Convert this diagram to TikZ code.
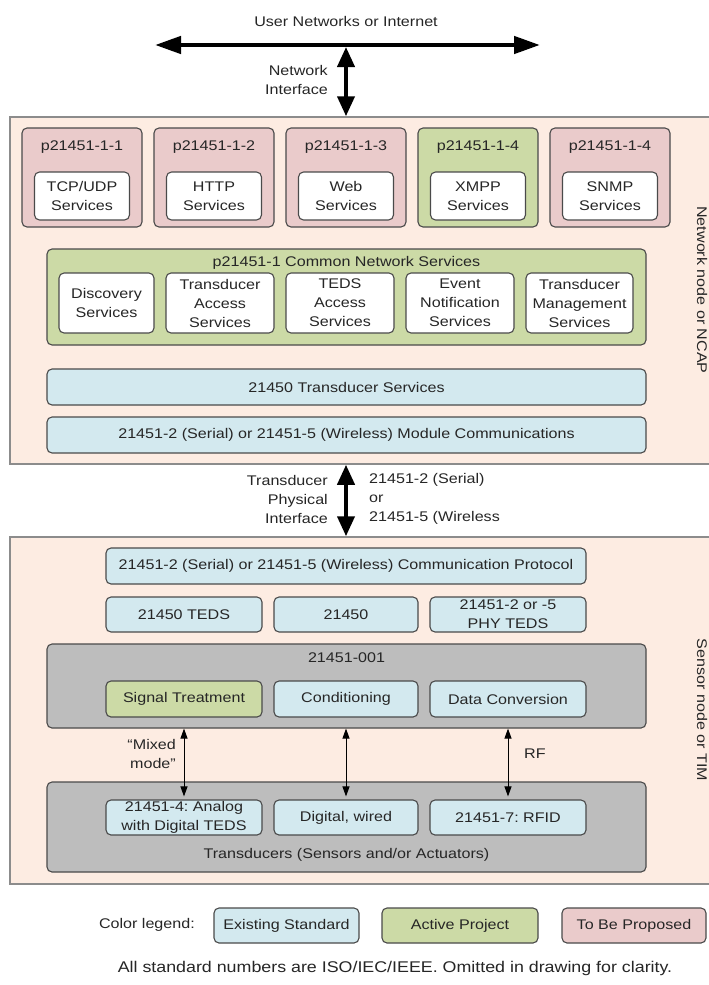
\documentclass[tikz,border=0pt]{standalone}
\usepackage{fontspec}
\setmainfont[FakeStretch=1.15]{Liberation Sans}
\usetikzlibrary{arrows.meta}
\frenchspacing
\definecolor{peach}{HTML}{FDECE2}
\definecolor{pinkf}{HTML}{EACBCB}
\definecolor{greenf}{HTML}{CCDAA6}
\definecolor{bluef}{HTML}{D3E9EF}
\definecolor{grayf}{HTML}{BDBDBD}
\definecolor{edgec}{HTML}{4A4A4A}
\definecolor{outerc}{HTML}{8C8C8C}
\definecolor{txt}{HTML}{262626}
\begin{document}
\begin{tikzpicture}[x=1pt,y=-1pt,
  every node/.style={font=\fontsize{14}{19}\selectfont\frenchspacing, text=txt, inner sep=0pt, align=center},
  box/.style={draw=edgec, line width=1.1pt, rounded corners=5pt},
  pinkbox/.style={box, fill=pinkf},
  greenbox/.style={box, fill=greenf},
  bluebox/.style={box, fill=bluef},
  graybox/.style={box, fill=grayf},
  whitebox/.style={box, fill=white},
  outerbox/.style={draw=outerc, line width=1.5pt, fill=peach},
  bigarrow/.style={line width=4pt, {Triangle[length=20pt,width=17pt]}-{Triangle[length=20pt,width=17pt]}},
  wideharrow/.style={line width=4.5pt, {Triangle[length=26pt,width=17pt]}-{Triangle[length=26pt,width=17pt]}},
  thinarrow/.style={line width=1pt, {Triangle[length=10pt,width=7pt]}-{Triangle[length=10pt,width=7pt]}}
]
\useasboundingbox (0,0) rectangle (709,985);
\fill[white] (0,0) rectangle (709,985);

% top network
\node (un) at (346,21) {User Networks or Internet};
\coordinate (hl) at (155,45);
\coordinate (hr) at (540,45);
\draw[wideharrow] (hl) -- (hr);

% NCAP
\node[outerbox, minimum width=705pt, minimum height=347pt] (ncap) at (362.5,290.5) {};
\node[rotate=-90] (ncapl) at (702,290) {Network node or NCAP};
\coordinate (ni) at (346,47);
\draw[bigarrow] (ni) -- (ni |- ncap.north);
\node[anchor=east, align=right] (nil) at (328,80) {Network\\Interface};

% top row
\node[pinkbox, minimum width=120pt, minimum height=99pt] (p1) at (82,177.5) {};
\node[pinkbox, minimum width=120pt, minimum height=99pt] (p2) at (214,177.5) {};
\node[pinkbox, minimum width=120pt, minimum height=99pt] (p3) at (346,177.5) {};
\node[greenbox, minimum width=120pt, minimum height=99pt] (p4) at (478,177.5) {};
\node[pinkbox, minimum width=120pt, minimum height=99pt] (p5) at (610,177.5) {};
\node (p1l) at (82,147) {p21451-1-1};
\node (p2l) at (214,147) {p21451-1-2};
\node (p3l) at (346,147) {p21451-1-3};
\node (p4l) at (478,147) {p21451-1-4};
\node (p5l) at (610,147) {p21451-1-4};
\node[whitebox, minimum width=95pt, minimum height=48pt] (s1) at (82,196) {TCP/UDP\\Services};
\node[whitebox, minimum width=95pt, minimum height=48pt] (s2) at (214,196) {HTTP\\Services};
\node[whitebox, minimum width=95pt, minimum height=48pt] (s3) at (346,196) {Web\\Services};
\node[whitebox, minimum width=95pt, minimum height=48pt] (s4) at (478,196) {XMPP\\Services};
\node[whitebox, minimum width=95pt, minimum height=48pt] (s5) at (610,196) {SNMP\\Services};

% common network services
\node[greenbox, minimum width=599pt, minimum height=96pt] (cns) at (346.5,297) {};
\node (cnsl) at (346.5,263) {p21451-1 Common Network Services};
\node[whitebox, minimum width=95pt, minimum height=60pt] (c1) at (106.5,303) {Discovery\\Services};
\node[whitebox, minimum width=108pt, minimum height=60pt] (c2) at (220,303) {Transducer\\Access\\Services};
\node[whitebox, minimum width=108pt, minimum height=60pt] (c3) at (340,303) {TEDS\\Access\\Services};
\node[whitebox, minimum width=108pt, minimum height=60pt] (c4) at (460,303) {Event\\Notification\\Services};
\node[whitebox, minimum width=107pt, minimum height=60pt] (c5) at (579.5,303) {Transducer\\Management\\Services};

\node[bluebox, minimum width=599pt, minimum height=36pt] (ts) at (346.5,387) {21450 Transducer Services};
\node[bluebox, minimum width=599pt, minimum height=36pt] (mc) at (346.5,435) {21451-2 (Serial) or 21451-5 (Wireless) Module Communications};

% TIM
\node[outerbox, minimum width=705pt, minimum height=347pt] (tim) at (362.5,710.5) {};
\node[rotate=-90] (timl) at (702,710) {Sensor node or TIM};
\coordinate (ti) at (346,500);
\draw[bigarrow] (ti |- ncap.south) -- (ti |- tim.north);
\node[anchor=east, align=right] (tpi) at (328,499) {Transducer\\Physical\\Interface};
\node[anchor=west, align=left] (tpr) at (369,499) {21451-2 (Serial)\\or\\21451-5 (Wireless};

\node[bluebox, minimum width=480pt, minimum height=36pt] (cp) at (346,566) {21451-2 (Serial) or 21451-5 (Wireless) Communication Protocol};
\node[bluebox, minimum width=156pt, minimum height=35pt] (r1) at (184,614.5) {21450 TEDS};
\node[bluebox, minimum width=144pt, minimum height=35pt] (r2) at (346,614.5) {21450};
\node[bluebox, minimum width=156pt, minimum height=35pt] (r3) at (508,614.5) {21451-2 or -5\\PHY TEDS};

\node[graybox, minimum width=599pt, minimum height=84pt] (g1) at (346.5,686) {};
\node (g1l) at (346.5,658) {21451-001};
\node[greenbox, minimum width=156pt, minimum height=36pt] (st) at (184,699) {Signal Treatment};
\node[bluebox, minimum width=144pt, minimum height=36pt] (co) at (346,699) {Conditioning};
\node[bluebox, minimum width=156pt, minimum height=36pt] (dc) at (508,699) {Data Conversion};

\node[graybox, minimum width=599pt, minimum height=90pt] (tr) at (346.5,827) {};
\node (trl) at (346.5,855) {Transducers (Sensors and/or Actuators)};
\node[bluebox, minimum width=156pt, minimum height=35pt] (an) at (184,817.5) {21451-4: Analog\\with Digital TEDS};
\node[bluebox, minimum width=144pt, minimum height=35pt] (dw) at (346,817.5) {Digital, wired};
\node[bluebox, minimum width=156pt, minimum height=35pt] (rf) at (508,817.5) {21451-7: RFID};

\draw[thinarrow] (st.south |- g1.south) -- ([yshift=3pt]an.north);
\draw[thinarrow] (co.south |- g1.south) -- ([yshift=3pt]dw.north);
\draw[thinarrow] (dc.south |- g1.south) -- ([yshift=3pt]rf.north);
\node[anchor=east, align=right] (mm) at (176,754) {“Mixed\\mode”};
\node[anchor=west] (rfl) at (524,754) {RF};

% legend
\node[anchor=east] (cl) at (195,925) {Color legend:};
\node[bluebox, minimum width=145pt, minimum height=35pt] (l1) at (286.5,925.5) {Existing Standard};
\node[greenbox, minimum width=156pt, minimum height=35pt] (l2) at (460,925.5) {Active Project};
\node[pinkbox, minimum width=144pt, minimum height=35pt] (l3) at (634,925.5) {To Be Proposed};
\node[font=\fontsize{15.5}{19}\selectfont\frenchspacing] (ft) at (395,968) {All standard numbers are ISO/IEC/IEEE. Omitted in drawing for clarity.};
\end{tikzpicture}
\end{document}
